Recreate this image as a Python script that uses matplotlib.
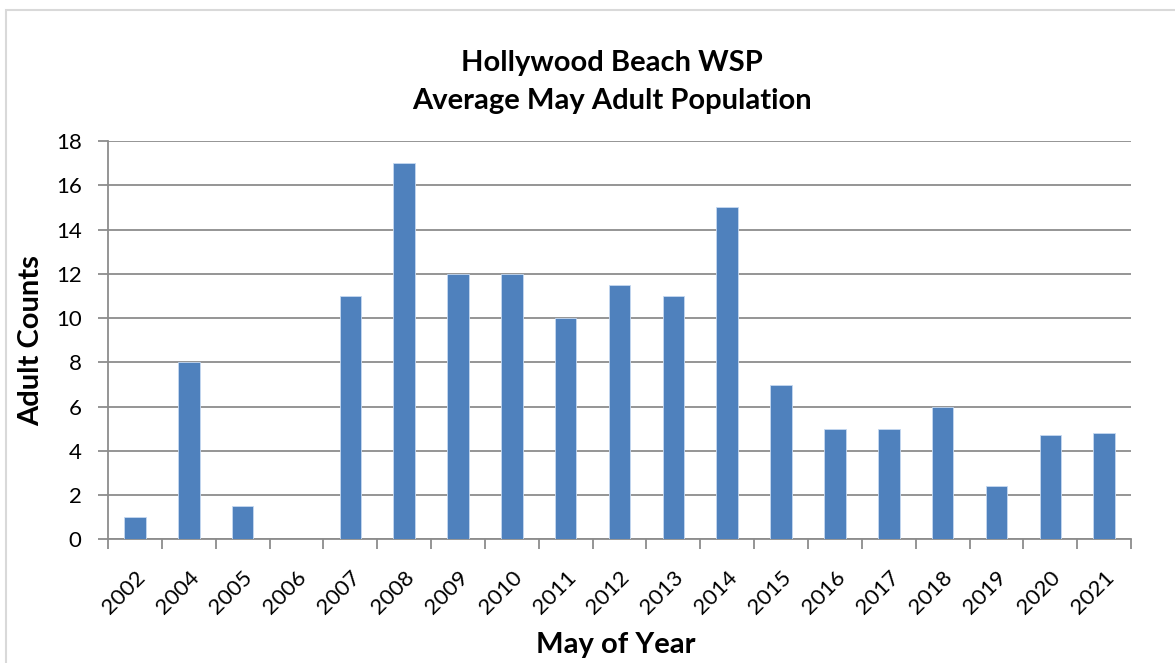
import numpy as np
import matplotlib.pyplot as plt
from matplotlib.patches import Rectangle

plt.rcParams['font.family'] = ['Lato', 'DejaVu Sans']

years = ['2002', '2004', '2005', '2006', '2007', '2008', '2009', '2010', '2011',
         '2012', '2013', '2014', '2015', '2016', '2017', '2018', '2019', '2020', '2021']
counts = [1, 8, 1.5, 0, 11, 17, 12, 12, 10,
          11.5, 11, 15, 7, 5, 5, 6, 2.4, 4.7, 4.8]
yticks = np.arange(0, 19, 2)

fig = plt.figure(figsize=(11.75, 6.63), dpi=100)
ax = fig.add_axes([0.0919, 0.1863, 0.8707, 0.601])

# light frame around the chart
fig.patches.append(Rectangle((6 / 1175, -0.05), 1.2, 1 - 10 / 663 + 0.05,
                             transform=fig.transFigure, fill=False,
                             edgecolor='#d9d9d9', linewidth=1.5))

x = np.arange(len(years))
ax.bar(x, counts, width=0.4, color='#4f81bd', edgecolor='#c6d9f1',
       linewidth=0.6, zorder=3)

ax.set_xlim(-0.5, len(years) - 0.5)
ax.set_ylim(0, 18)
ax.set_yticks(yticks)
ax.set_yticklabels([str(v) for v in yticks], fontsize=16)
ax.yaxis.grid(True, color='#8c8c8c', linewidth=1.3, zorder=0)

ax.set_xticks(x)
ax.set_xticklabels(years, rotation=45, ha='right', rotation_mode='anchor', fontsize=16)
ax.set_xticks(np.arange(-0.5, len(years), 1), minor=True)
ax.tick_params(axis='x', which='major', length=0, pad=20)
ax.tick_params(axis='x', which='minor', length=7, width=1.3, color='#8c8c8c')
ax.tick_params(axis='y', length=7, width=1.3, color='#8c8c8c', pad=12)

for side in ['top', 'right']:
    ax.spines[side].set_visible(False)
for side in ['left', 'bottom']:
    ax.spines[side].set_color('#8c8c8c')
    ax.spines[side].set_linewidth(1.3)

fig.text(0.521, 0.905, 'Hollywood Beach WSP', ha='center', va='center',
         fontsize=21, fontweight='bold')
fig.text(0.521, 0.848, 'Average May Adult Population', ha='center', va='center',
         fontsize=21, fontweight='bold')
ax.set_ylabel('Adult Counts', fontsize=21, fontweight='bold', labelpad=8)
fig.text(0.524, 0.027, 'May of Year', ha='center', va='center',
         fontsize=21, fontweight='bold')

fig.savefig('out.png', dpi=100)
